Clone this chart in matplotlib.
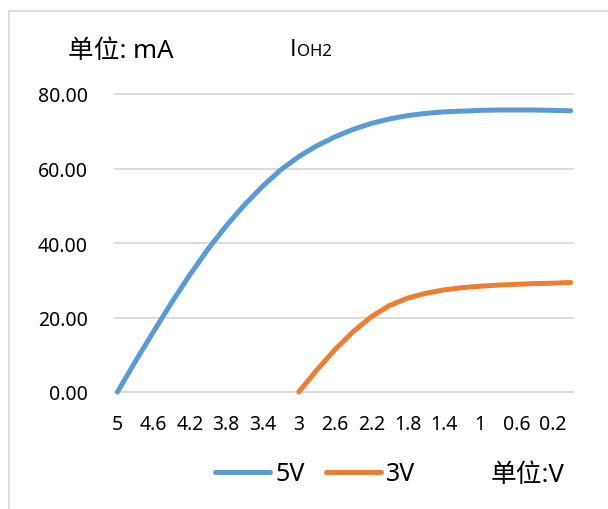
import matplotlib
matplotlib.use('Agg')
import matplotlib.pyplot as plt
from matplotlib.patches import Rectangle
import numpy as np

plt.rcParams['font.family'] = ['Noto Sans', 'Noto Sans CJK SC', 'DejaVu Sans']

# 电压从 5V 降到 0V，步长 0.2
volts = ['5', '4.8', '4.6', '4.4', '4.2', '4', '3.8', '3.6', '3.4', '3.2',
         '3', '2.8', '2.6', '2.4', '2.2', '2', '1.8', '1.6', '1.4', '1.2',
         '1', '0.8', '0.6', '0.4', '0.2', '0']
i_5v = [0.0, 8.3, 16.3, 24.1, 31.5, 38.4, 44.6, 50.2, 55.2, 59.6,
        63.2, 66.1, 68.5, 70.5, 72.1, 73.3, 74.2, 74.8, 75.2, 75.4,
        75.6, 75.7, 75.7, 75.7, 75.6, 75.5]
i_3v = [np.nan] * 10 + [0.0, 5.9, 11.4, 16.2, 20.2, 23.2, 25.2, 26.5, 27.4, 28.0,
                        28.4, 28.7, 28.9, 29.1, 29.2, 29.4]
y_ticks = [0, 20, 40, 60, 80]

W, H = 608, 510
fig = plt.figure(figsize=(W / 100, H / 100), dpi=100)

# 外框
fig.patches.append(Rectangle((8.5 / W, -0.1), 1.2, 1 - 11.5 / H + 0.1,
                             transform=fig.transFigure, fill=False,
                             edgecolor='#D9D9D9', linewidth=1.2))

# 绘图区: x 114..574, y(0)=393, y(80)=95
px_per_unit = (393 - 95) / 80
pad = 1.0
top_px = 95 - pad * px_per_unit
bot_px = 393 + pad * px_per_unit
ax = fig.add_axes([114 / W, 1 - bot_px / H, (574 - 114) / W, (bot_px - top_px) / H])

x = np.arange(len(volts))
ax.plot(x, i_5v, color='#5B9BD5', linewidth=3.6, solid_capstyle='round',
        solid_joinstyle='round', label='5V')
ax.plot(x, i_3v, color='#ED7D31', linewidth=3.6, solid_capstyle='round',
        solid_joinstyle='round', label='3V')

ax.set_ylim(-pad, 80 + pad)
ax.set_xlim(-0.19, 25.18)
for v in y_ticks:
    ax.axhline(v, color='#D9D9D9', linewidth=1.3, zorder=0)

ax.set_yticks(y_ticks)
ax.set_yticklabels([f'{v:.2f}' for v in y_ticks])
ax.set_xticks(x[::2])
ax.set_xticklabels(volts[::2])
ax.tick_params(axis='y', length=0, pad=19, labelsize=14, labelcolor='#000000')
ax.tick_params(axis='x', length=0, pad=13, labelsize=14, labelcolor='#000000')
for s in ax.spines.values():
    s.set_visible(False)

fig.text(68 / W, 1 - 51 / H, '单位: mA', fontsize=18.5, va='center', ha='left')
fig.text(290 / W, 1 - 56 / H, 'I', fontsize=16, va='baseline', ha='left',
         family=['Noto Sans CJK SC'])
fig.text(297 / W, 1 - 56 / H, 'OH2', fontsize=12, va='baseline', ha='left')
fig.text(491 / W, 1 - 476 / H, '单位:V', fontsize=18.5, va='center', ha='left')

fig.legend(loc='center left', bbox_to_anchor=(215 / W, 1 - 475 / H), ncol=2,
           frameon=False, fontsize=18, handlelength=2.2, handletextpad=0.2,
           columnspacing=0.85, borderpad=0, borderaxespad=0)

fig.savefig('out.png', dpi=100)
